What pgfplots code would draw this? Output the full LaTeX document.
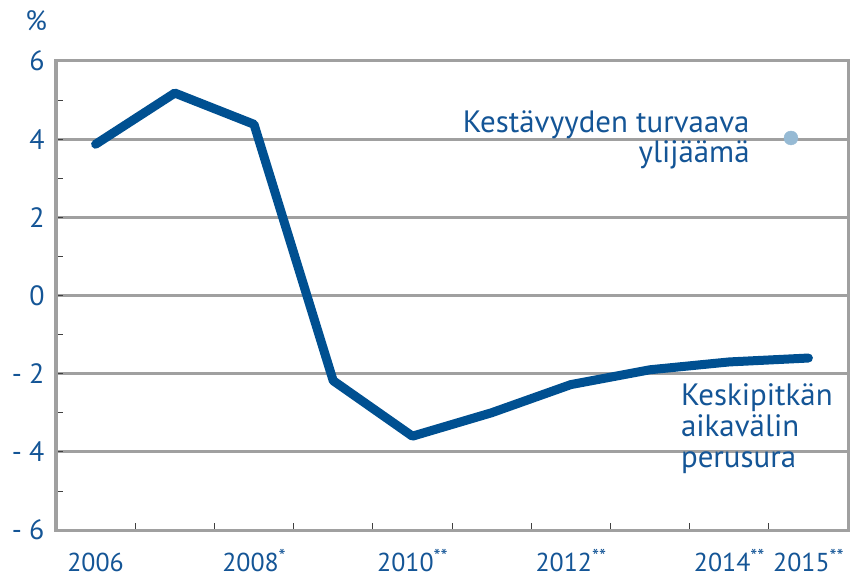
\documentclass[border=0pt]{standalone}
\usepackage{pgfplots}
\pgfplotsset{compat=1.18}
\usepackage{fontspec}
\setmainfont{PT Sans}
\definecolor{lineblue}{RGB}{0,80,145}
\definecolor{txtblue}{RGB}{20,85,150}
\definecolor{dotblue}{RGB}{150,186,212}
\definecolor{gridgray}{RGB}{160,160,160}
\newcommand{\astr}[1]{\raisebox{0.32em}{\fontsize{20}{20}\selectfont #1}}
\begin{document}
\begin{tikzpicture}
\begin{axis}[
  scale only axis,
  width=792bp, height=469bp,
  xmin=-0.5, xmax=9.5, ymin=-6, ymax=6,
  clip=false,
  axis line style={gridgray, line width=3bp},
  ymajorgrids, major grid style={gridgray, line width=3bp},
  ytick={-6,-4,-2,0,2,4,6},
  yticklabels={- 6,- 4,- 2,0,2,4,6},
  minor ytick={-5,-3,-1,1,3,5},
  xtick={0.5,1.5,...,8.5},
  xticklabels={},
  extra x ticks={0,2,4,6,8,9},
  extra x tick labels={2006,2008\astr{*},2010\astr{**},2012\astr{**},2014\astr{**},2015\astr{**}},
  extra x tick style={major tick length=0pt, grid=none},
  xtick pos=bottom, ytick pos=left,
  tick align=inside,
  major tick length=7bp, minor tick length=7bp,
  tick style={black!75, line width=0.8bp},
  ticklabel style={font=\fontsize{28}{32}\selectfont, text=txtblue},
  yticklabel style={xshift=-8bp},
  xticklabel style={yshift=-12bp, font=\fontsize{26}{30}\selectfont, text height=26bp, text depth=0pt},
  /pgf/number format/assume math mode=true,
]
\addplot[lineblue, line width=9bp, line join=round, line cap=round] coordinates {
  (0,3.87) (1,5.18) (2,4.38) (3,-2.18) (4,-3.6) (5,-3.0) (6,-2.28) (7,-1.9) (8,-1.7) (9,-1.6)
};
\addplot[only marks, mark=*, mark size=7bp, dotblue, mark options={draw=none, fill=dotblue}] coordinates {(8.78,4.03)};
\node[anchor=base east, text=txtblue, font=\fontsize{31}{34}\selectfont, inner sep=0pt] at (axis cs:8.26,4.17) {Kestävyyden turvaava};
\node[anchor=base east, text=txtblue, font=\fontsize{31}{34}\selectfont, inner sep=0pt] at (axis cs:8.26,3.40) {ylijäämä};
\node[anchor=base west, text=txtblue, font=\fontsize{31}{34}\selectfont, inner sep=0pt] at (axis cs:7.39,-2.81) {Keskipitkän};
\node[anchor=base west, text=txtblue, font=\fontsize{31}{34}\selectfont, inner sep=0pt] at (axis cs:7.39,-3.61) {aikavälin};
\node[anchor=base west, text=txtblue, font=\fontsize{31}{34}\selectfont, inner sep=0pt] at (axis cs:7.39,-4.40) {perusura};
\node[text=txtblue, font=\fontsize{28}{32}\selectfont] at (axis cs:-0.75,7.04) {\%};
\end{axis}
\pgfresetboundingbox
\path (current axis.south west) ++(-56bp,-49bp) rectangle ++(862bp,579bp);
\end{tikzpicture}
\end{document}
